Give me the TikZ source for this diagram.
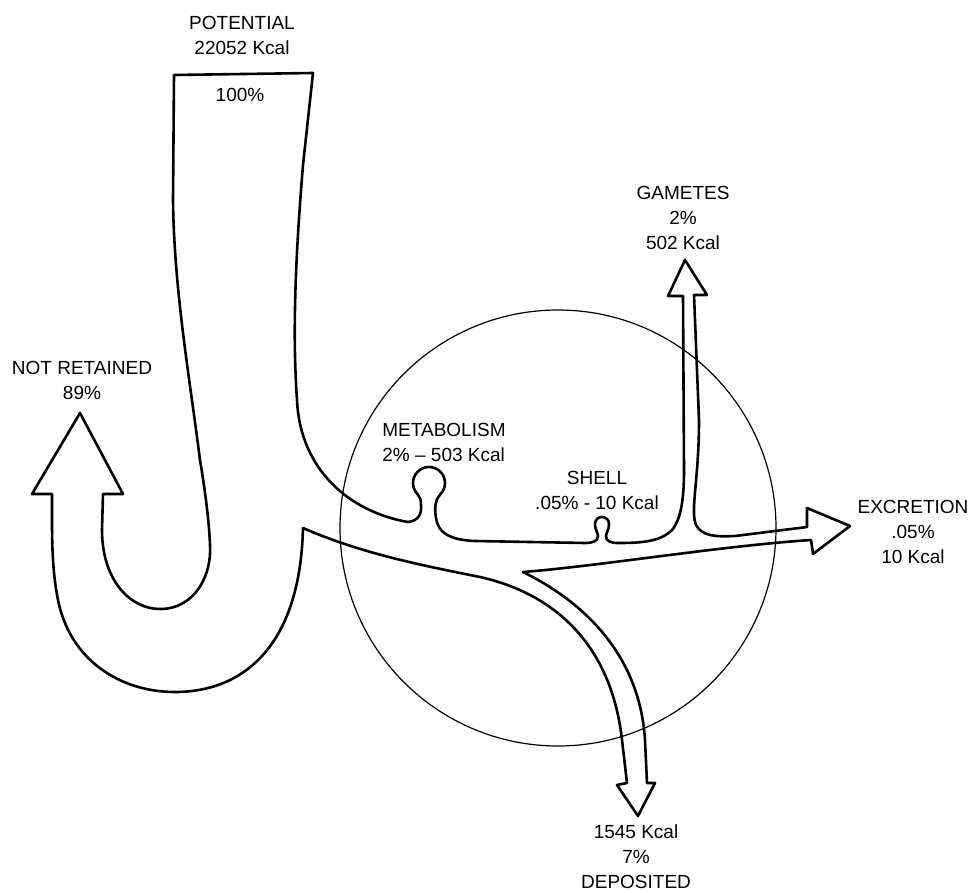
\documentclass[tikz,border=0pt]{standalone}
\usepackage{fontspec}
\setmainfont{Liberation Sans}

\begin{document}
\begin{tikzpicture}[
    x=0.5pt, y=-0.5pt,
    flow/.style={line width=1.3pt, line join=round},
    rim/.style={line width=0.6pt},
    every node/.style={font=\fontsize{9.5}{12.5}\selectfont, align=center, inner sep=0pt}
]
\useasboundingbox (0,0) rectangle (979,893);
\draw[rim] (558,528) circle[radius=109pt];
\draw[flow] (174,75) -- (313,73) -- (303,165)
    .. controls (296,250) and (292,330) .. (297,400)
    .. controls (300,470) and (350,512) .. (408,522)
    .. controls (418,521) and (422,514) .. (421,505)
    .. controls (421,500) and (420,497) .. (417.7,494.3)
    .. controls (414.7,491.3) and (413,487.2) .. (413,483)
    .. controls (413,474.2) and (420.2,467) .. (429,467)
    .. controls (437.8,467) and (445,474.2) .. (445,483)
    .. controls (445,487.2) and (443.3,491.3) .. (440.3,494.3)
    .. controls (436,499) and (434,506) .. (436,518)
    .. controls (438,533) and (450,540) .. (475,541)
    -- (585,543)
    .. controls (593,543) and (598,541) .. (598,536)
    .. controls (598,533) and (595,530) .. (595,524)
    .. controls (595,520) and (598,517) .. (602,517)
    .. controls (606,517) and (609,520) .. (609,524)
    .. controls (609,530) and (606,533) .. (606,536)
    .. controls (606,541) and (610,543) .. (618,543)
    .. controls (640,543) and (660,542) .. (672,530)
    .. controls (682,518) and (684,495) .. (684,470)
    -- (683,296) -- (668,296) -- (685,260) -- (707,295) -- (694,295)
    -- (699,420)
    .. controls (699,480) and (690,510) .. (696,525)
    .. controls (702,536) and (715,537) .. (735,536)
    -- (807,527) -- (807,508) -- (850,526) -- (813,554) -- (811,540)
    .. controls (720,546) and (600,566) .. (523,572)
    .. controls (590,605) and (640,660) .. (645,740)
    -- (647,783) -- (655,783) -- (638,816) -- (617,785) -- (627,783)
    -- (622,740)
    .. controls (612,650) and (560,595) .. (480,577)
    .. controls (420,565) and (360,553) .. (303,528)
    .. controls (300,650) and (240,692) .. (175,692)
    .. controls (120,692) and (70,660) .. (58,600)
    .. controls (53,575) and (52,550) .. (52,520)
    -- (52,494) -- (32,494) -- (80,413) -- (123,494) -- (103,494)
    -- (102,530)
    .. controls (102,580) and (130,609) .. (160,609)
    .. controls (195,609) and (212,575) .. (210,545)
    .. controls (209,520) and (205,490) .. (200,460)
    .. controls (190,380) and (174,290) .. (173,200)
    -- cycle;
\node (potential) at (242,35) {POTENTIAL\\22052 Kcal};
\node (full) at (240,95) {100\%};
\node (lost) at (82,380) {NOT RETAINED\\89\%};
\node[anchor=west, align=left] (metab) at (382,442) {METABOLISM\\2\% -- 503 Kcal};
\node (shell) at (597,490) {SHELL\\.05\% - 10 Kcal};
\node (gametes) at (683,218) {GAMETES\\2\%\\502 Kcal};
\node (excretion) at (913,532) {EXCRETION\\.05\%\\10 Kcal};
\node (deposited) at (636,857) {1545 Kcal\\7\%\\DEPOSITED};
\end{tikzpicture}
\end{document}
